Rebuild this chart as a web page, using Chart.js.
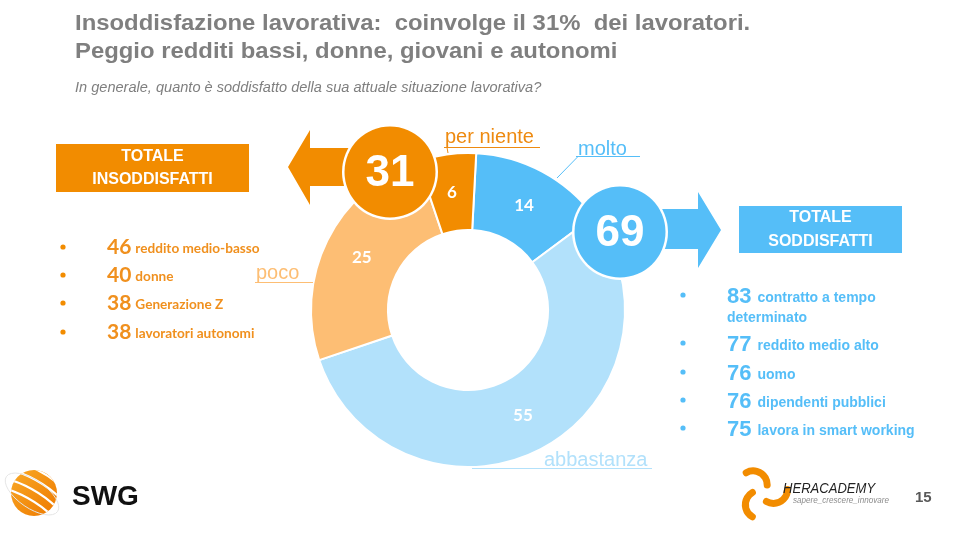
<!DOCTYPE html>
<html><head><meta charset="utf-8">
<script src="https://cdn.jsdelivr.net/npm/chart.js@4"></script>
<style>html,body{margin:0;padding:0;background:#fff;}#c{display:block;}</style>
</head><body>
<canvas id="c" width="960" height="540"></canvas>
<script>
const categories = ['molto', 'abbastanza', 'poco', 'per niente'];
const values = [14, 55, 25, 6];
const sliceColors = ['#55BEF8', '#B2E1FB', '#FDBE74', '#F28C00'];
const totalInsoddisfatti = 31;
const totalSoddisfatti = 69;
const insoddNumbers = [46, 40, 38, 38];
const insoddLabels = ['reddito medio-basso', 'donne', 'Generazione Z', 'lavoratori autonomi'];
const soddNumbers = [83, 77, 76, 76, 75];
const soddLabels = [['contratto a tempo', 'determinato'], ['reddito medio alto'], ['uomo'], ['dipendenti pubblici'], ['lavora in smart working']];

const ORANGE = '#F28C00', BLUE = '#55BEF8';

function scaledText(ctx, txt, x, y, sx) {
  ctx.save();
  ctx.translate(x, y);
  ctx.scale(sx, 1);
  ctx.fillText(txt, 0, 0);
  ctx.restore();
}

const deco = {
  id: 'deco',
  afterDatasetsDraw(chart) {
    const ctx = chart.ctx;
    const meta = chart.getDatasetMeta(0);
    ctx.save();
    ctx.fillStyle = '#fff';
    ctx.font = 'bold 17px Lato, "Open Sans", sans-serif';
    ctx.textAlign = 'center'; ctx.textBaseline = 'middle';
    meta.data.forEach((arc, i) => {
      const p = arc.tooltipPosition();
      ctx.fillText(String(values[i]), p.x, p.y);
    });
    ctx.restore();
  },
  afterDraw(chart) {
    const ctx = chart.ctx;
    ctx.save();
    // Title
    ctx.fillStyle = '#7F7F7F';
    ctx.textBaseline = 'alphabetic'; ctx.textAlign = 'left';
    ctx.font = 'bold 22px "Liberation Sans", Arial, sans-serif';
    scaledText(ctx, 'Insoddisfazione lavorativa:  coinvolge il 31%  dei lavoratori.', 75, 30, 1.085);
    scaledText(ctx, 'Peggio redditi bassi, donne, giovani e autonomi', 75, 58, 1.085);
    ctx.font = 'italic 14px "Liberation Sans", Arial, sans-serif';
    scaledText(ctx, 'In generale, quanto è soddisfatto della sua attuale situazione lavorativa?', 75, 92, 1.04);

    // category labels with leader lines
    ctx.font = '20px "Liberation Sans", Arial, sans-serif';
    ctx.lineWidth = 1;
    const cl = (txt, color, x, y, lines) => {
      ctx.fillStyle = color; ctx.strokeStyle = color;
      ctx.fillText(txt, x, y);
      ctx.beginPath();
      lines.forEach(seg => { ctx.moveTo(seg[0], seg[1]); ctx.lineTo(seg[2], seg[3]); });
      ctx.stroke();
    };
    cl(categories[3], '#EE8A10', 445, 143, [[444, 147.5, 540, 147.5], [447, 147.5, 448, 153]]);
    cl(categories[0], '#55BEF8', 578, 155, [[576, 156.5, 640, 156.5], [578, 156.5, 557, 178]]);
    cl(categories[2], '#FDBE74', 256, 279, [[255, 282.5, 313, 282.5]]);
    cl(categories[1], '#B2E1FB', 544, 466, [[472, 468.5, 652, 468.5]]);

    // Arrows
    ctx.fillStyle = ORANGE;
    ctx.beginPath();
    ctx.moveTo(288, 167); ctx.lineTo(310, 130); ctx.lineTo(310, 148); ctx.lineTo(350, 148);
    ctx.lineTo(350, 186); ctx.lineTo(310, 186); ctx.lineTo(310, 205); ctx.closePath(); ctx.fill();
    ctx.fillStyle = BLUE;
    ctx.beginPath();
    ctx.moveTo(721, 230); ctx.lineTo(698, 192); ctx.lineTo(698, 209); ctx.lineTo(660, 209);
    ctx.lineTo(660, 249); ctx.lineTo(698, 249); ctx.lineTo(698, 268); ctx.closePath(); ctx.fill();

    // Total circles
    const circ = (cx, cy, color, txt) => {
      ctx.beginPath(); ctx.arc(cx, cy, 48, 0, Math.PI * 2);
      ctx.fillStyle = '#fff'; ctx.fill();
      ctx.beginPath(); ctx.arc(cx, cy, 45.5, 0, Math.PI * 2);
      ctx.fillStyle = color; ctx.fill();
      ctx.fillStyle = '#fff';
      ctx.font = 'bold 44px "Liberation Sans", Arial, sans-serif';
      ctx.textAlign = 'center'; ctx.textBaseline = 'middle';
      ctx.fillText(String(txt), cx, cy + 2);
    };
    circ(390, 172, ORANGE, totalInsoddisfatti);
    circ(620, 232, BLUE, totalSoddisfatti);

    // Boxes
    ctx.fillStyle = ORANGE; ctx.fillRect(56, 144, 193, 48);
    ctx.fillStyle = BLUE; ctx.fillRect(739, 206, 163, 47);
    ctx.fillStyle = '#fff';
    ctx.font = 'bold 16px "Liberation Sans", Arial, sans-serif';
    ctx.textAlign = 'center'; ctx.textBaseline = 'middle';
    ctx.fillText('TOTALE', 152.5, 157); ctx.fillText('INSODDISFATTI', 152.5, 180);
    ctx.fillText('TOTALE', 820.5, 218); ctx.fillText('SODDISFATTI', 820.5, 242);

    // Left list
    ctx.textAlign = 'left'; ctx.textBaseline = 'alphabetic';
    const leftY = [254, 282, 310, 339];
    insoddNumbers.forEach((n, i) => {
      ctx.fillStyle = ORANGE;
      ctx.beginPath(); ctx.arc(63, leftY[i] - 7, 2.6, 0, Math.PI * 2); ctx.fill();
      ctx.fillStyle = '#F0901E';
      ctx.font = 'bold 21px Lato, "Open Sans", sans-serif';
      ctx.fillText(String(n), 107, leftY[i]);
      const w = ctx.measureText(String(n)).width;
      ctx.font = 'bold 13.6px Lato, "Open Sans", sans-serif';
      ctx.fillText(insoddLabels[i], 107 + w + 4, leftY[i] - 1);
    });

    // Right list
    const rightY = [303, 351, 380, 408, 436];
    soddNumbers.forEach((n, i) => {
      ctx.fillStyle = BLUE;
      ctx.beginPath(); ctx.arc(683, rightY[i] - 8, 2.6, 0, Math.PI * 2); ctx.fill();
      ctx.font = 'bold 22px "Liberation Sans", Arial, sans-serif';
      ctx.fillText(String(n), 727, rightY[i]);
      const w = ctx.measureText(String(n)).width;
      ctx.font = 'bold 14px "Liberation Sans", Arial, sans-serif';
      ctx.fillText(soddLabels[i][0], 727 + w + 6, rightY[i] - 1);
      if (soddLabels[i][1]) ctx.fillText(soddLabels[i][1], 727, rightY[i] + 19);
    });

    // SWG logo
    const g = ctx.createLinearGradient(12, 470, 56, 515);
    g.addColorStop(0, '#F9A825'); g.addColorStop(1, '#EE7A00');
    ctx.beginPath(); ctx.arc(34, 493, 23, 0, Math.PI * 2); ctx.fillStyle = g; ctx.fill();
    ctx.save();
    ctx.beginPath(); ctx.arc(34, 493, 23, 0, Math.PI * 2); ctx.clip();
    ctx.strokeStyle = '#fff'; ctx.lineWidth = 2.2;
    for (let k = -2; k <= 2; k++) {
      ctx.beginPath();
      ctx.ellipse(34 + k * 4, 493 - k * 9, 40, 12, 0.55, Math.PI * 0.9, Math.PI * 2.1);
      ctx.stroke();
    }
    ctx.restore();
    ctx.strokeStyle = '#E5E5E5'; ctx.lineWidth = 1;
    ctx.beginPath(); ctx.ellipse(32, 494, 31, 14, 0.6, 0, Math.PI * 2); ctx.stroke();
    ctx.fillStyle = '#111';
    ctx.font = 'bold 28px "Liberation Sans", Arial, sans-serif';
    ctx.textAlign = 'left'; ctx.textBaseline = 'alphabetic';
    ctx.fillText('SWG', 72, 505);

    // Heracademy logo
    ctx.strokeStyle = '#F28C00'; ctx.lineWidth = 7; ctx.lineCap = 'round';
    for (let k = 0; k < 3; k++) {
      const a = k * 2 * Math.PI / 3 - 0.3;
      ctx.beginPath();
      ctx.arc(762 + 12 * Math.cos(a), 493 + 12 * Math.sin(a), 14, a + 0.3, a + 2.4);
      ctx.stroke();
    }
    ctx.fillStyle = '#222';
    ctx.font = 'italic 15px "Liberation Sans", Arial, sans-serif';
    scaledText(ctx, 'HERACADEMY', 783, 493, 0.87);
    ctx.fillStyle = '#8C8C8C';
    ctx.font = 'italic 9px "Liberation Sans", Arial, sans-serif';
    scaledText(ctx, 'sapere_crescere_innovare', 793, 503, 0.9);
    ctx.fillStyle = '#595959';
    ctx.font = 'bold 15px "Liberation Sans", Arial, sans-serif';
    ctx.fillText('15', 915, 502);
    ctx.restore();
  }
};

new Chart(document.getElementById('c'), {
  type: 'doughnut',
  data: {
    labels: categories,
    datasets: [{
      data: values,
      backgroundColor: sliceColors,
      borderColor: '#ffffff',
      borderWidth: 2,
      hoverOffset: 0
    }]
  },
  options: {
    responsive: false,
    devicePixelRatio: 1,
    animation: false,
    rotation: 3,
    cutout: '51%',
    layout: { padding: { left: 310, right: 334, top: 152, bottom: 72 } },
    plugins: { legend: { display: false }, tooltip: { enabled: false } }
  },
  plugins: [deco]
});
</script>
</body></html>
